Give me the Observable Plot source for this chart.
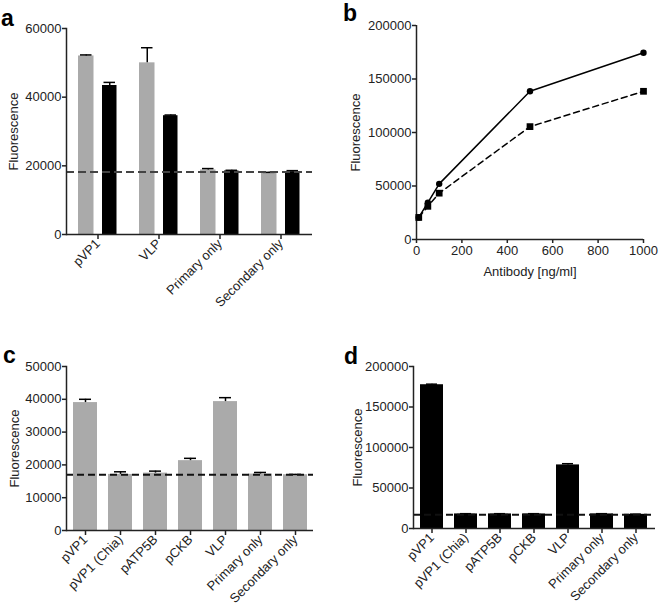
<!DOCTYPE html>
<html><head><meta charset="utf-8">
<script src="https://cdn.jsdelivr.net/npm/d3@7"></script>
<script src="https://cdn.jsdelivr.net/npm/@observablehq/plot@0.6"></script>
<style>
body{margin:0;background:#fff;}
#fig{position:relative;width:660px;height:608px;font-family:"Liberation Sans",Arial,sans-serif;overflow:hidden;}
.panel{position:absolute;}
.panel svg{overflow:visible;}
#labels{position:absolute;left:0;top:0;pointer-events:none;}
</style></head><body><div id="fig"></div>
<script>
// ---- Panel a data ----
const catA = ["pVP1", "VLP", "Primary only", "Secondary only"];
const grayA = [52000, 50000, 18800, 17900];
const grayErrA = [300, 4400, 400, 200];
const blackA = [43400, 34600, 18500, 18300];
const blackErrA = [900, 200, 200, 300];
const baseA = 18200;
const ticksA = [0, 20000, 40000, 60000];

// ---- Panel b data ----
const doseB = [10, 50, 100, 500, 1000];
const solidB = [20600, 34500, 52000, 138500, 174500];
const dashedB = [20600, 31000, 43300, 105500, 138500];
const ticksBy = [0, 50000, 100000, 150000, 200000];
const ticksBx = [0, 200, 400, 600, 800, 1000];

// ---- Panels c & d data ----
const catCD = ["pVP1", "pVP1 (Chia)", "pATP5B", "pCKB", "VLP", "Primary only", "Secondary only"];
const valC = [39000, 17100, 17500, 21300, 39300, 17200, 17000];
const errC = [1000, 800, 600, 700, 1200, 500, 100];
const baseC = 17000;
const ticksC = [0, 10000, 20000, 30000, 40000, 50000];
const valD = [177500, 18000, 18000, 18000, 78500, 18000, 17500];
const errD = [700, 300, 300, 300, 1500, 300, 200];
const baseD = 17000;
const ticksD = [0, 50000, 100000, 150000, 200000];

const FONT = '"Liberation Sans", Arial, sans-serif';
const AX = "#222";
const GRAY = "#aaaaaa";
const style = {fontFamily: FONT, fontSize: "13px", color: AX, background: "none", overflow: "visible"};

const fig = document.getElementById("fig");
function place(el, left, top) {
  const d = document.createElement("div");
  d.className = "panel";
  d.style.left = left + "px";
  d.style.top = top + "px";
  d.appendChild(el);
  fig.appendChild(d);
}

// ---- Panel a ----
const rowsAG = catA.map((c, i) => ({cat: c, v: grayA[i], e: grayErrA[i]}));
const rowsAB = catA.map((c, i) => ({cat: c, v: blackA[i], e: blackErrA[i]}));
const plotA = Plot.plot({
  width: 330, height: 330,
  marginLeft: 66, marginRight: 18, marginTop: 28, marginBottom: 96,
  style,
  x: {domain: catA, padding: 0, label: null},
  y: {domain: [0, 60000], label: null},
  marks: [
    Plot.barY(rowsAG, {x: "cat", y: "v", fill: GRAY, insetLeft: 11, insetRight: 34.5}),
    Plot.barY(rowsAB, {x: "cat", y: "v", fill: "#000", insetLeft: 35, insetRight: 11.5}),
    Plot.ruleX(rowsAG, {x: "cat", y1: "v", y2: d => d.v + d.e, dx: -11.75, stroke: "#000", strokeWidth: 1.5}),
    Plot.tickY(rowsAG, {x: "cat", y: d => d.v + d.e, insetLeft: 13, insetRight: 36.5, stroke: "#000", strokeWidth: 1.5}),
    Plot.ruleX(rowsAB, {x: "cat", y1: "v", y2: d => d.v + d.e, dx: 11.75, stroke: "#000", strokeWidth: 1.5}),
    Plot.tickY(rowsAB, {x: "cat", y: d => d.v + d.e, insetLeft: 36.5, insetRight: 13, stroke: "#000", strokeWidth: 1.5}),
    Plot.ruleY([baseA], {stroke: "#444", strokeWidth: 2, strokeDasharray: "8,4"}),
    Plot.ruleY([0], {stroke: AX, strokeWidth: 1.5}),
    Plot.frame({anchor: "left", stroke: AX, strokeWidth: 1.5}),
    Plot.axisY({ticks: ticksA, tickFormat: "d", tickSize: 4, tickPadding: 1, strokeWidth: 1.5,
      label: "Fluorescence", labelAnchor: "center", labelArrow: "none", labelOffset: 58}),
    Plot.axisX({tickRotate: -45, tickSize: 5, tickPadding: 2, strokeWidth: 1.5, label: null})
  ]
});
place(plotA, 0, 0);

// ---- Panel b ----
const rowsB = doseB.map((x, i) => ({dose: x, solid: solidB[i], dashed: dashedB[i]}));
const plotB = Plot.plot({
  width: 330, height: 300,
  marginLeft: 86, marginRight: 17, marginTop: 25, marginBottom: 61,
  style,
  x: {domain: [0, 1000], label: null},
  y: {domain: [0, 200000], label: null},
  marks: [
    Plot.ruleX([0], {stroke: AX, strokeWidth: 1.5}),
    Plot.ruleY([0], {stroke: AX, strokeWidth: 1.5}),
    Plot.line(rowsB, {x: "dose", y: "solid", stroke: "#000", strokeWidth: 1.5}),
    Plot.line(rowsB, {x: "dose", y: "dashed", stroke: "#000", strokeWidth: 1.5, strokeDasharray: "6,4"}),
    Plot.dot(rowsB, {x: "dose", y: "solid", symbol: "circle", r: 3.2, fill: "#000"}),
    Plot.dot(rowsB, {x: "dose", y: "dashed", symbol: "square", r: 3.8, fill: "#000"}),
    Plot.axisY({ticks: ticksBy, tickFormat: "d", tickSize: 4, tickPadding: 1, strokeWidth: 1.5,
      label: "Fluorescence", labelAnchor: "center", labelArrow: "none", labelOffset: 66}),
    Plot.axisX({ticks: ticksBx, tickFormat: "d", tickSize: 4, tickPadding: 2, strokeWidth: 1.5,
      label: "Antibody [ng/ml]", labelAnchor: "center", labelArrow: "none", labelOffset: 36})
  ]
});
place(plotB, 330, 0);

// ---- Panels c & d ----
function barPanel(vals, errs, base, ticks, ymax, fill, w, h, m, yLabOff, dash, dashColor) {
  const rows = catCD.map((c, i) => ({cat: c, v: vals[i], e: errs[i]}));
  return Plot.plot({
    width: w, height: h,
    marginLeft: m[0], marginRight: m[1], marginTop: m[2], marginBottom: m[3],
    style,
    x: {domain: catCD, paddingInner: 0.32, paddingOuter: 0.16, label: null},
    y: {domain: [0, ymax], label: null},
    marks: [
      Plot.barY(rows, {x: "cat", y: "v", fill}),
      Plot.ruleX(rows, {x: "cat", y1: "v", y2: d => d.v + d.e, stroke: "#000", strokeWidth: 1.5}),
      Plot.tickY(rows, {x: "cat", y: d => d.v + d.e, inset: 6, stroke: "#000", strokeWidth: 1.5}),
      Plot.ruleY([base], {stroke: dashColor, strokeWidth: 1.8, strokeDasharray: dash}),
      Plot.ruleY([0], {stroke: AX, strokeWidth: 1.5}),
      Plot.frame({anchor: "left", stroke: AX, strokeWidth: 1.5}),
      Plot.axisY({ticks, tickFormat: "d", tickSize: 4, tickPadding: 1, strokeWidth: 1.5,
        label: "Fluorescence", labelAnchor: "center", labelArrow: "none", labelOffset: yLabOff}),
      Plot.axisX({tickRotate: -45, tickSize: 5, tickPadding: 2, strokeWidth: 1.5, label: null})
    ]
  });
}
place(barPanel(valC, errC, baseC, ticksC, 50000, GRAY, 330, 308, [66, 17, 66, 78], 57, "7,4", "#111"), 0, 300);
place(barPanel(valD, errD, baseD, ticksD, 200000, "#000", 330, 308, [83, 5, 66, 80], 61, "7,4", "#111"), 330, 300);

// ---- Panel letters ----
const ns = "http://www.w3.org/2000/svg";
const lab = document.createElementNS(ns, "svg");
lab.setAttribute("id", "labels");
lab.setAttribute("width", 660);
lab.setAttribute("height", 608);
[["a", 1, 26], ["b", 343, 21], ["c", 3, 363], ["d", 344, 364]].forEach(([t, x, y]) => {
  const el = document.createElementNS(ns, "text");
  el.setAttribute("x", x);
  el.setAttribute("y", y);
  el.setAttribute("font-family", FONT);
  el.setAttribute("font-weight", "bold");
  el.setAttribute("font-size", 23);
  el.textContent = t;
  lab.appendChild(el);
});
fig.appendChild(lab);
</script></body></html>
